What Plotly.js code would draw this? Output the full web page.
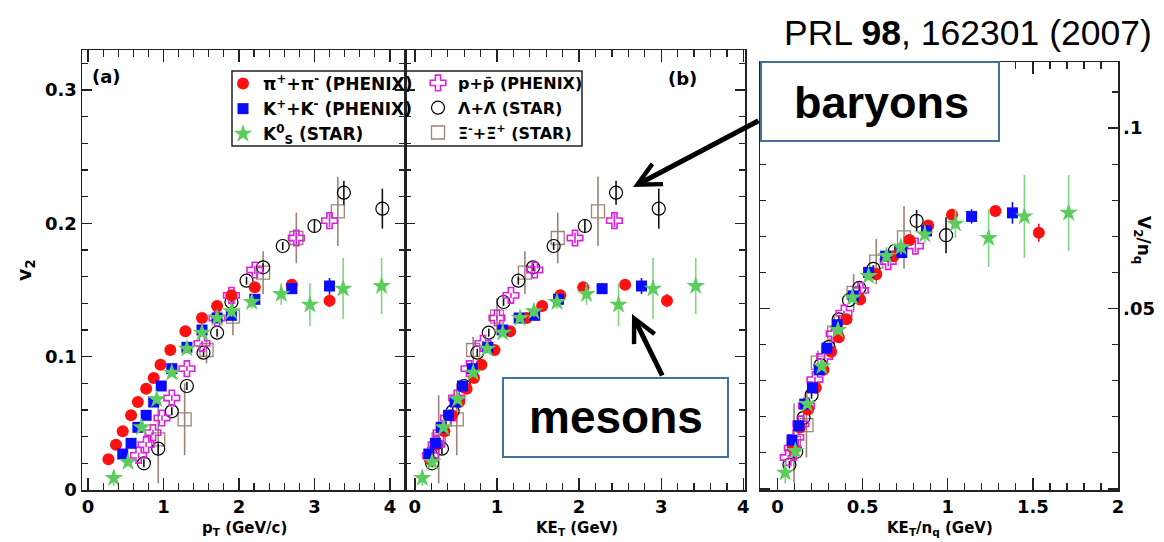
<!DOCTYPE html>
<html>
<head>
<meta charset="utf-8">
<script src="https://cdn.plot.ly/plotly-3.0.1.min.js"></script>
<style>html,body{margin:0;padding:0;background:#fff;}#chart{width:1164px;height:542px;}</style>
</head>
<body>
<div id="chart"></div>
<script>
// ---------------- DATA ----------------
// pi+ + pi- (PHENIX)
const pi_pt  = [0.27,0.37,0.46,0.57,0.66,0.77,0.87,0.96,1.09,1.29,1.51,1.71,1.90,2.21,2.70,3.20];
const pi_ket = [0.18,0.26,0.36,0.45,0.54,0.63,0.72,0.81,0.97,1.16,1.36,1.55,1.77,2.05,2.56,3.07];
const pi_v2  = [0.023,0.034,0.044,0.056,0.066,0.076,0.084,0.094,0.105,0.119,0.129,0.138,0.146,0.152,0.154,0.142];
const pi_err = [0.001,0.001,0.001,0.001,0.001,0.001,0.001,0.001,0.001,0.001,0.001,0.002,0.002,0.002,0.003,0.005];
const pi_kn  = [0.09,0.13,0.18,0.225,0.27,0.315,0.36,0.405,0.485,0.58,0.68,0.775,0.885,1.025,1.28,1.535];
const pi_v2n = [0.0115,0.017,0.022,0.028,0.033,0.038,0.042,0.047,0.0525,0.0595,0.0645,0.069,0.073,0.076,0.077,0.071];
const pi_errn= [0.0005,0.0005,0.0005,0.0005,0.0005,0.0005,0.0005,0.0005,0.0005,0.0005,0.0005,0.001,0.001,0.001,0.0015,0.0025];

// K+ + K- (PHENIX)
const k_pt  = [0.46,0.57,0.66,0.77,0.87,0.97,1.11,1.31,1.51,1.71,1.90,2.21,2.70,3.20];
const k_ket = [0.17,0.25,0.32,0.41,0.49,0.58,0.70,0.89,1.07,1.27,1.46,1.75,2.28,2.76];
const k_v2  = [0.027,0.035,0.047,0.056,0.066,0.078,0.091,0.107,0.120,0.129,0.131,0.143,0.151,0.153];
const k_err = [0.001,0.001,0.001,0.001,0.001,0.001,0.001,0.001,0.001,0.001,0.002,0.003,0.004,0.006];
const k_kn  = [0.085,0.125,0.16,0.205,0.245,0.29,0.35,0.445,0.535,0.635,0.73,0.875,1.14,1.38];
const k_v2n = [0.0135,0.0175,0.0235,0.028,0.033,0.039,0.0455,0.0535,0.06,0.0645,0.0655,0.0715,0.0755,0.0765];
const k_errn= [0.0005,0.0005,0.0005,0.0005,0.0005,0.0005,0.0005,0.0005,0.0005,0.0005,0.001,0.0015,0.002,0.003];

// K0s (STAR)
const ks_pt  = [0.34,0.53,0.71,0.91,1.11,1.31,1.51,1.71,1.90,2.17,2.56,2.94,3.38,3.89];
const ks_ket = [0.09,0.21,0.35,0.52,0.71,0.88,1.07,1.28,1.45,1.73,2.09,2.48,2.90,3.42];
const ks_v2  = [0.009,0.021,0.047,0.068,0.088,0.106,0.118,0.129,0.134,0.141,0.147,0.139,0.151,0.153];
const ks_err = [0.006,0.003,0.002,0.002,0.002,0.002,0.002,0.003,0.004,0.005,0.008,0.016,0.023,0.021];
const ks_kn  = [0.045,0.105,0.175,0.26,0.355,0.44,0.535,0.64,0.725,0.865,1.045,1.24,1.45,1.71];
const ks_v2n = [0.0045,0.0105,0.0235,0.034,0.044,0.053,0.059,0.0645,0.067,0.0705,0.0735,0.0695,0.0755,0.0765];
const ks_errn= [0.003,0.0015,0.001,0.001,0.001,0.001,0.001,0.0015,0.002,0.0025,0.004,0.008,0.0115,0.0105];

// p + pbar (PHENIX)
const p_pt  = [0.67,0.77,0.86,0.98,1.11,1.31,1.51,1.71,1.90,2.21,2.76,3.20];
const p_ket = [0.19,0.26,0.32,0.41,0.51,0.66,0.83,1.00,1.17,1.46,1.95,2.43];
const p_v2  = [0.026,0.034,0.043,0.054,0.069,0.091,0.110,0.129,0.146,0.165,0.189,0.202];
const p_err = [0.002,0.002,0.002,0.002,0.002,0.002,0.002,0.002,0.002,0.003,0.004,0.005];
const p_kn  = [0.063,0.087,0.107,0.137,0.17,0.22,0.277,0.333,0.39,0.487,0.65,0.81];
const p_v2n = [0.0087,0.0113,0.0143,0.018,0.023,0.0303,0.0367,0.043,0.0487,0.055,0.063,0.0673];
const p_errn= [0.0007,0.0007,0.0007,0.0007,0.0007,0.0007,0.0007,0.0007,0.0007,0.001,0.0013,0.0017];

// Lambda + Lambdabar (STAR)
const l_pt  = [0.74,0.93,1.11,1.31,1.53,1.71,1.90,2.10,2.32,2.58,3.00,3.39,3.90];
const l_ket = [0.21,0.33,0.46,0.60,0.76,0.90,1.08,1.26,1.44,1.69,2.07,2.45,2.97];
const l_v2  = [0.020,0.031,0.059,0.078,0.103,0.118,0.141,0.157,0.167,0.183,0.198,0.223,0.211];
const l_err = [0.003,0.004,0.003,0.003,0.003,0.003,0.003,0.003,0.003,0.003,0.005,0.009,0.015];
const l_kn  = [0.07,0.11,0.153,0.2,0.253,0.3,0.36,0.42,0.48,0.563,0.69,0.817,0.99];
const l_v2n = [0.0067,0.0103,0.0197,0.026,0.0343,0.0393,0.047,0.0523,0.0557,0.061,0.066,0.0743,0.0703];
const l_errn= [0.001,0.0013,0.001,0.001,0.001,0.001,0.001,0.001,0.001,0.001,0.0017,0.003,0.005];

// Xi- + Xibar+ (STAR)
const x_pt  = [0.93,1.28,1.57,1.92,2.32,2.76,3.31];
const x_ket = [0.29,0.51,0.71,1.00,1.34,1.74,2.23];
const x_v2  = [0.038,0.053,0.105,0.130,0.163,0.189,0.209];
const x_err = [0.033,0.027,0.010,0.014,0.016,0.019,0.026];
const x_kn  = [0.097,0.17,0.237,0.333,0.447,0.58,0.743];
const x_v2n = [0.0127,0.0177,0.035,0.0433,0.0543,0.063,0.0697];
const x_errn= [0.011,0.009,0.0033,0.0047,0.0053,0.0063,0.0087];

const names = [
  'π<sup>+</sup>+π<sup>-</sup> (PHENIX)',
  'K<sup>+</sup>+K<sup>-</sup> (PHENIX)',
  'K<sup>0</sup><sub>S</sub> (STAR)',
  'p+p\u0304 (PHENIX)',
  'Λ+Λ\u0304 (STAR)',
  'Ξ<sup>-</sup>+Ξ\u0304<sup>+</sup> (STAR)'
];
const xTicksC = ['0','0.5','1','1.5','2'];

// ---------------- STYLES ----------------
const W = 1164, H = 542;
const PX = v => v / W;
const PY = v => 1 - v / H;

const styles = [
  {symbol:'circle', color:'#ff1010', size:12, lw:0, ecol:'#ff1010', legend:'legend'},
  {symbol:'square', color:'#0a0aff', size:11, lw:0, ecol:'#0a0aff', legend:'legend'},
  {symbol:'star', color:'#5ccc5c', size:14, lw:0, ecol:'#7fd67f', legend:'legend'},
  {symbol:'cross-open', color:'#e020e0', size:13, lw:1.6, ecol:'#e020e0', legend:'legend2'},
  {symbol:'circle-open', color:'#000000', size:13, lw:1.2, ecol:'#111111', legend:'legend2'},
  {symbol:'square-open', color:'#9c8478', size:13, lw:1.3, ecol:'#9c8478', legend:'legend2'}
];

const series = [
  [pi_pt, pi_ket, pi_v2, pi_err, pi_kn, pi_v2n, pi_errn],
  [k_pt, k_ket, k_v2, k_err, k_kn, k_v2n, k_errn],
  [ks_pt, ks_ket, ks_v2, ks_err, ks_kn, ks_v2n, ks_errn],
  [p_pt, p_ket, p_v2, p_err, p_kn, p_v2n, p_errn],
  [l_pt, l_ket, l_v2, l_err, l_kn, l_v2n, l_errn],
  [x_pt, x_ket, x_v2, x_err, x_kn, x_v2n, x_errn]
];

function mk(x, y, e, xa, ya, s, i, show) {
  const filled = s.lw === 0;
  return {
    type:'scatter', mode:'markers', x:x, y:y, xaxis:xa, yaxis:ya,
    name:names[i], legend:s.legend, legendgroup:'g'+i, showlegend:show,
    marker:{symbol:s.symbol, color:s.color, size:s.size,
            line:{width: filled ? 0 : s.lw, color:s.color}},
    error_y:{type:'data', array:e, visible:true, color:s.ecol, thickness:1.6, width:0},
    hoverinfo:'skip', cliponaxis:false
  };
}

const data = [];
const order = [5,4,3,0,1,2];
order.forEach(i => {
  const d = series[i], s = styles[i];
  data.push(mk(d[0], d[2], d[3], 'x', 'y', s, i, false));
  data.push(mk(d[1], d[2], d[3], 'x2', 'y2', s, i, false));
  data.push(mk(d[4], d[5], d[6], 'x3', 'y3', s, i, false));
});
// legend entries, in the reference's order
[0,1,2,3,4,5].forEach(i => {
  data.push(mk([null], [null], [0], 'x', 'y', styles[i], i, true));
});

const tickFont = {family:'DejaVu Sans', size:18, weight:'bold', color:'#000'};
function baseAxis(extra) {
  return Object.assign({
    showline:true, linecolor:'#222', linewidth:1.5, mirror:'allticks',
    ticks:'inside', ticklen:12, tickwidth:1.4, tickcolor:'#222',
    showgrid:false, zeroline:false, tickfont:tickFont, fixedrange:true
  }, extra);
}
const minorT = (dt, len) => ({dtick:dt, tick0:0, ticks:'inside', ticklen:len, tickwidth:1.2, tickcolor:'#222'});
const yDomAB = [PY(490), PY(50)];
const yDomC  = [PY(490), PY(62)];

function ann(x, y, text, font, extra) {
  return Object.assign({xref:'paper', yref:'paper', x:PX(x), y:PY(y), text:text, showarrow:false,
    xanchor:'center', yanchor:'middle', font:font}, extra || {});
}
const bold = (fam, size) => ({family:fam, size:size, color:'#000'});

const layout = {
  width:W, height:H, margin:{l:0,r:0,t:0,b:0},
  paper_bgcolor:'#fff', plot_bgcolor:'#fff',
  font:{family:'DejaVu Sans', color:'#000'},
  showlegend:true,
  xaxis: baseAxis({domain:[PX(82),PX(405)], range:[-0.08,4.2], anchor:'y', dtick:1, tick0:0, minor:minorT(0.2,7)}),
  xaxis2: baseAxis({domain:[PX(405),PX(745)], range:[-0.12,4.02], anchor:'y2', dtick:1, tick0:0, minor:minorT(0.2,7)}),
  xaxis3: baseAxis({domain:[PX(760),PX(1118)], range:[-0.103,2.0], anchor:'y3',
           tickmode:'array', tickvals:[0,0.5,1,1.5,2], ticktext:xTicksC, minor:minorT(0.1,7)}),
  yaxis: baseAxis({domain:yDomAB, range:[0,0.33], anchor:'x', dtick:0.1, tick0:0, ticklen:10, minor:minorT(0.02,6)}),
  yaxis2: baseAxis({domain:yDomAB, range:[0,0.33], anchor:'x2', dtick:0.1, tick0:0, ticklen:10,
           showticklabels:false, minor:minorT(0.02,6)}),
  yaxis3: baseAxis({domain:yDomC, range:[-0.0003,0.1183], anchor:'x3', side:'right', ticklen:10,
           tickmode:'array', tickvals:[0,0.05,0.1], ticktext:['','.05','.1'], minor:minorT(0.01,6)}),
  legend: {x:PX(223), xanchor:'left', y:PY(66), yanchor:'top', bgcolor:'rgba(0,0,0,0)',
           borderwidth:0, font:{family:'DejaVu Sans', size:17, weight:'bold', color:'#000'},
           tracegroupgap:0},
  legend2: {x:PX(418), xanchor:'left', y:PY(66), yanchor:'top', bgcolor:'rgba(0,0,0,0)',
           borderwidth:0, font:{family:'DejaVu Sans', size:16, weight:'bold', color:'#000'},
           tracegroupgap:1},
  shapes: [
    {type:'rect', xref:'paper', yref:'paper', x0:PX(232), x1:PX(582), y0:PY(146), y1:PY(71),
     line:{color:'#222', width:1.5}, fillcolor:'rgba(0,0,0,0)', layer:'above'},
    {type:'rect', xref:'paper', yref:'paper', x0:PX(761), x1:PX(999), y0:PY(141), y1:PY(62),
     line:{color:'#41719c', width:2}, fillcolor:'#ffffff', layer:'above'},
    {type:'rect', xref:'paper', yref:'paper', x0:PX(503), x1:PX(728), y0:PY(457), y1:PY(378),
     line:{color:'#41719c', width:2}, fillcolor:'#ffffff', layer:'above'}
  ],
  annotations: [
    ann(106, 77, '<b>(a)</b>', bold('DejaVu Sans',18)),
    ann(682, 78, '<b>(b)</b>', bold('DejaVu Sans',18)),
    ann(968, 33, 'PRL <b>98</b>, 162301 (2007)', bold('Liberation Sans',35.5)),
    ann(881, 102, '<b>baryons</b>', bold('Liberation Sans',45)),
    ann(616, 417, '<b>mesons</b>', bold('Liberation Sans',46)),
    {xref:'paper', yref:'paper', x:PX(633), y:PY(187), ax:127, ay:-67, axref:'pixel', ayref:'pixel',
     text:'', showarrow:true, arrowhead:5, arrowsize:0.9, arrowwidth:5, arrowcolor:'#000'},
    {xref:'paper', yref:'paper', x:PX(632), y:PY(314), ax:31, ay:63, axref:'pixel', ayref:'pixel',
     text:'', showarrow:true, arrowhead:5, arrowsize:0.9, arrowwidth:5, arrowcolor:'#000'},
    ann(244, 528, '<b>p<sub>T</sub> (GeV/c)</b>', bold('DejaVu Sans',15)),
    ann(577, 528, '<b>KE<sub>T</sub> (GeV)</b>', bold('DejaVu Sans',15)),
    ann(940, 528, '<b>KE<sub>T</sub>/n<sub>q</sub> (GeV)</b>', bold('DejaVu Sans',15)),
    ann(25, 270, '<b>v<sub>2</sub></b>', bold('DejaVu Sans',19), {textangle:-90}),
    ann(1143, 240, '<b>V<sub>2</sub>/n<sub>q</sub></b>', bold('DejaVu Sans',17), {textangle:90})
  ]
};

Plotly.newPlot('chart', data, layout, {displayModeBar:false, staticPlot:true});
</script>
</body>
</html>
